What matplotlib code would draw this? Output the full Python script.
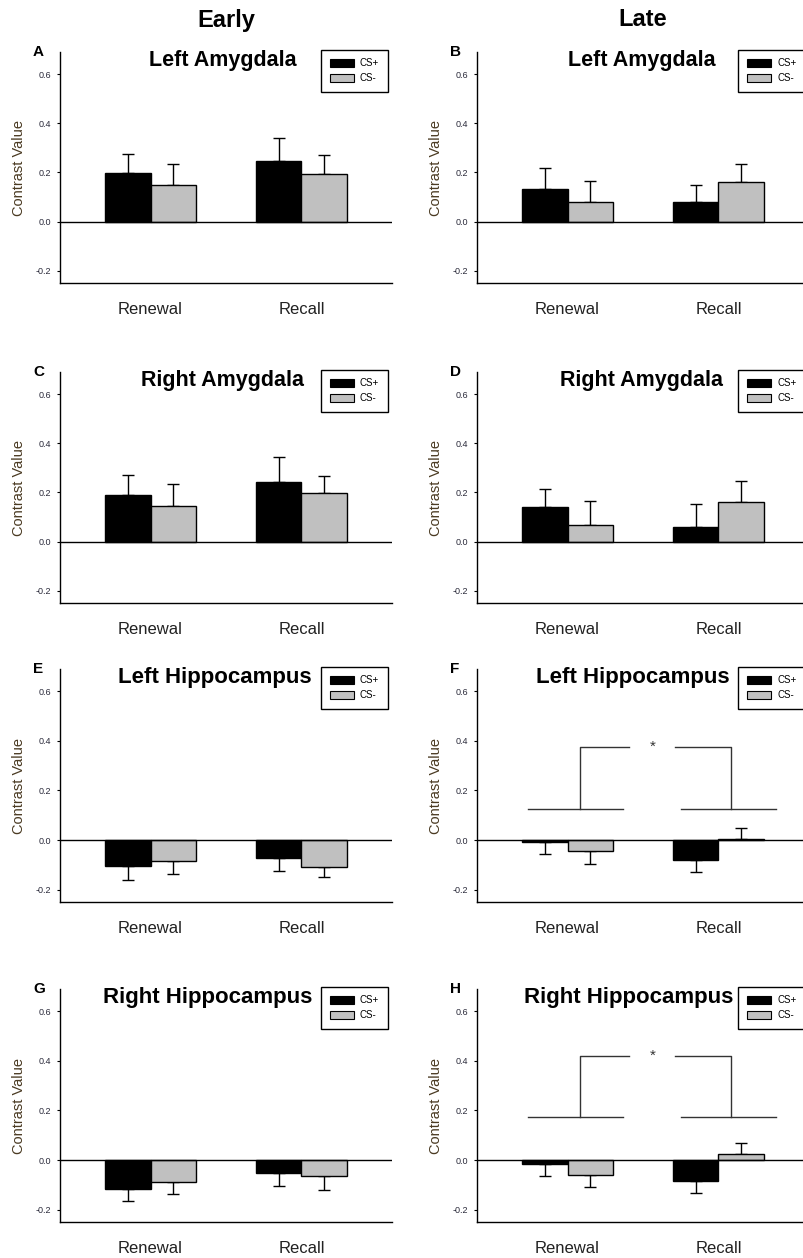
import numpy as np
import matplotlib
matplotlib.use("Agg")
import matplotlib.pyplot as plt
from matplotlib.patches import Patch

plt.rcParams['font.family'] = ['Liberation Sans', 'DejaVu Sans']

# ---------------- data ----------------
conditions = ["Renewal", "Recall"]
series_labels = ["CS+", "CS-"]
panel_letters = ["A", "B", "C", "D", "E", "F", "G", "H"]
panel_titles = ["Left Amygdala", "Left Amygdala",
                "Right Amygdala", "Right Amygdala",
                "Left Hippocampus", "Left Hippocampus",
                "Right Hippocampus", "Right Hippocampus"]
column_titles = ["Early", "Late"]

# mean values [Renewal, Recall]
cs_plus = {
    "A": [0.196, 0.246], "B": [0.131, 0.080],
    "C": [0.190, 0.241], "D": [0.139, 0.058],
    "E": [-0.105, -0.072], "F": [-0.008, -0.081],
    "G": [-0.117, -0.052], "H": [-0.018, -0.083],
}
cs_minus = {
    "A": [0.149, 0.194], "B": [0.080, 0.163],
    "C": [0.145, 0.196], "D": [0.069, 0.160],
    "E": [-0.084, -0.110], "F": [-0.046, 0.006],
    "G": [-0.087, -0.065], "H": [-0.062, 0.025],
}
# error bar lengths (one-sided, away from zero)
cs_plus_err = {
    "A": [0.078, 0.096], "B": [0.086, 0.069],
    "C": [0.079, 0.102], "D": [0.073, 0.096],
    "E": [0.056, 0.054], "F": [0.049, 0.046],
    "G": [0.049, 0.053], "H": [0.045, 0.048],
}
cs_minus_err = {
    "A": [0.085, 0.075], "B": [0.086, 0.071],
    "C": [0.089, 0.069], "D": [0.097, 0.087],
    "E": [0.054, 0.039], "F": [0.052, 0.041],
    "G": [0.051, 0.056], "H": [0.048, 0.044],
}
# significance brackets: (lower level, upper level)
brackets = {"F": (0.125, 0.375), "H": (0.172, 0.42)}

yticks = [-0.2, 0.0, 0.2, 0.4, 0.6]

# ---------------- layout ----------------
W, H = 804, 1258
fig = plt.figure(figsize=(W / 100, H / 100), dpi=100)

col_left_px = [60, 477]
ax_w_px = 332
rows_px = [(52, 283), (372, 603), (669, 902), (989, 1222)]
title_x = {"A": 0.49, "B": 0.497, "C": 0.49, "D": 0.495,
           "E": 0.465, "F": 0.47, "G": 0.445, "H": 0.458}

CS_PLUS_COLOR = "black"
CS_MINUS_COLOR = "#c0c0c0"
bw = 0.3
x = np.arange(len(conditions))

for i, letter in enumerate(panel_letters):
    r, c = divmod(i, 2)
    top, bot = rows_px[r]
    left = col_left_px[c]
    ax = fig.add_axes([left / W, 1 - bot / H, ax_w_px / W, (bot - top) / H])

    vp = np.array(cs_plus[letter]); vm = np.array(cs_minus[letter])
    ep = np.array(cs_plus_err[letter]); em = np.array(cs_minus_err[letter])

    for vals, errs, xpos, col in [(vp, ep, x - bw / 2, CS_PLUS_COLOR),
                                  (vm, em, x + bw / 2, CS_MINUS_COLOR)]:
        ax.bar(xpos, vals, width=bw, color=col, edgecolor="black",
               linewidth=1.0, zorder=2)
        lower = np.where(vals < 0, errs, 0)
        upper = np.where(vals >= 0, errs, 0)
        ax.errorbar(xpos, vals, yerr=[lower, upper], fmt="none",
                    ecolor="black", elinewidth=1.0, capsize=4.5,
                    capthick=1.0, zorder=1)

    ax.axhline(0, color="black", linewidth=1.0, zorder=3)
    ax.set_xlim(-0.6, 1.6)
    ax.set_ylim(-0.25, 0.69)
    ax.set_yticks(yticks)
    ax.set_yticklabels([f"{t:.1f}" for t in yticks], fontsize=6.5,
                       color="#2a2a3a")
    ax.set_xticks(x)
    ax.set_xticklabels(conditions, fontsize=12, color="#222222")
    ax.tick_params(axis="x", length=0, pad=14)
    ax.tick_params(axis="y", length=2.5, width=0.8, pad=4)
    for s in ["top", "right"]:
        ax.spines[s].set_visible(False)
    for s in ["left", "bottom"]:
        ax.spines[s].set_linewidth(1.0)
    ax.set_ylabel("Contrast Value", fontsize=10.5, color="#4a3a22", labelpad=7)

    ax.text(0.0 - 27 / ax_w_px, 1.0, letter, transform=ax.transAxes,
            fontsize=11, fontweight="bold", ha="left", va="center")
    tsize = 16 if "Hippocampus" in panel_titles[i] else 15.5
    ax.text(title_x[letter], 0.962, panel_titles[i], transform=ax.transAxes,
            fontsize=tsize, fontweight="bold", ha="center", va="center")

    handles = [Patch(facecolor=CS_PLUS_COLOR, edgecolor="black", linewidth=0.8),
               Patch(facecolor=CS_MINUS_COLOR, edgecolor="black", linewidth=0.8)]
    leg = ax.legend(handles, series_labels, loc="upper right",
                    bbox_to_anchor=(328 / ax_w_px, 1.01), fontsize=7,
                    frameon=True, fancybox=False, framealpha=1,
                    edgecolor="black", handlelength=2.5, handleheight=0.8,
                    handletextpad=0.6, labelspacing=0.5, borderpad=0.9,
                    borderaxespad=0)
    leg.get_frame().set_linewidth(1.0)

    if letter in brackets:
        lo, hi = brackets[letter]
        lc = "#333333"
        ax.plot([-0.26, 0.37], [lo, lo], color=lc, lw=1.0)
        ax.plot([0.08, 0.08, 0.41], [lo, hi, hi], color=lc, lw=1.0)
        ax.plot([0.71, 1.086, 1.086], [hi, hi, lo], color=lc, lw=1.0)
        ax.plot([0.755, 1.38], [lo, lo], color=lc, lw=1.0)
        ax.text(0.565, hi, "*", ha="center", va="center", fontsize=11,
                color="#333333")

# column headers
for c, t in enumerate(column_titles):
    cx = (col_left_px[c] + ax_w_px / 2) / W
    fig.text(cx, 1 - 20 / H, t, ha="center", va="center", fontsize=17,
             fontweight="bold")

fig.savefig("out.png", dpi=100)
